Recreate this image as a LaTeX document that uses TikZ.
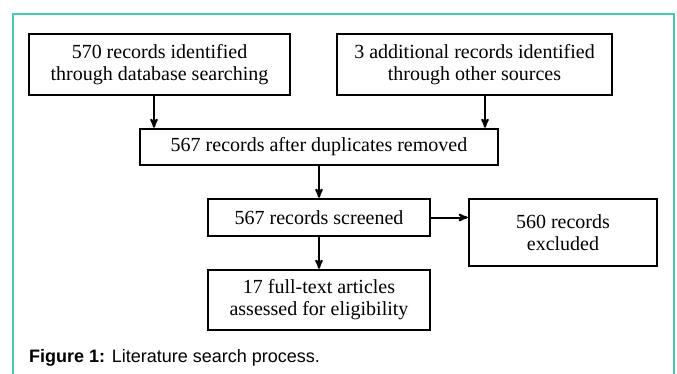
\documentclass[tikz,border=0pt]{standalone}
\usepackage{fontspec}
\setmainfont{Liberation Serif}
\newfontfamily\capfont{Liberation Sans}
\usetikzlibrary{arrows,positioning}
\definecolor{frameteal}{RGB}{72,201,180}
\tikzset{
    %Define standard arrow tip
    >=stealth',
    %Define style for boxes
    recbox/.style={
           rectangle,
           draw=black, line width=2.5pt,
           inner sep=0pt,
           align=center,
           font=\fontsize{20}{22}\selectfont},
    % Define arrow style
    pil/.style={
           ->,
           line width=2pt}
}

\begin{document}
\begin{tikzpicture}[x=1pt,y=-1pt]
\useasboundingbox (0,0) rectangle (677,374);
 %frame
\draw[frameteal, line width=1.5pt] (13,374) -- (13,14) -- (674,14) -- (674,374);

 %nodes
\node[recbox, minimum width=261pt, minimum height=61pt] (1) at (159.5,64.5) {570 records identified\\through database searching};
\node[recbox, minimum width=275pt, minimum height=61pt] (2) at (474.5,64.5) {3 additional records identified\\through other sources};
\node[recbox, minimum width=358pt, minimum height=36pt] (3) at (319,147) {567 records after duplicates removed};
\node[recbox, minimum width=222pt, minimum height=37pt] (4) at (319,217.5) {567 records screened};
\node[recbox, minimum width=188pt, minimum height=67pt] (5) at (563,232.5) {560 records\\excluded};
\node[recbox, minimum width=222pt, minimum height=60pt] (6) at (319,300) {17 full-text articles\\assessed for eligibility};

\node[anchor=base west, inner sep=0pt, font=\capfont\fontsize{18}{21}\selectfont] (cap) at (29,362) {\textbf{Figure 1:} Literature search process.};

 %arrows
\draw[pil] ([xshift=-5.5pt]1.south) -- ([xshift=-5.5pt]1.south |- 3.north);
\draw[pil] ([xshift=10.5pt]2.south) -- ([xshift=10.5pt]2.south |- 3.north);
\draw[pil] (3) -- (4);
\draw[pil] (4) -- (6);
\draw[pil] (4.east) -- (4.east -| 5.west);

\end{tikzpicture}
\end{document}
